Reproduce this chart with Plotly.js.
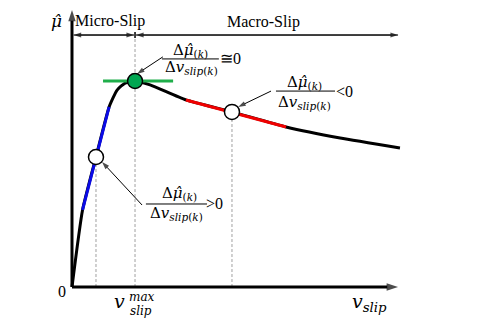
<!DOCTYPE html>
<html>
<head>
<meta charset="utf-8">
<script src="https://cdn.plot.ly/plotly-3.0.1.min.js"></script>
<style>
  body { margin: 0; background: #fff; }
  #chart { width: 479px; height: 327px; }
</style>
</head>
<body>
<div id="chart"></div>
<script>
// friction curve mu_hat vs slip velocity (arbitrary units, peak normalised to 1)
var slip = [0, 0.33, 0.75, 1.16, 1.41, 1.66, 1.97, 2.44, 3.56, 5.0, 6.69, 8.38, 10.25]
var mu   = [0, 0.374, 0.631, 0.874, 0.956, 0.99, 1.0, 0.981, 0.908, 0.85, 0.777, 0.723, 0.675]

// the three operating points k and their local slopes
var pointSlip = [0.75, 1.97, 5.0]
var pointMu   = [0.631, 1.0, 0.85]

var tangentRise = { slip: [0.33, 1.16], mu: [0.374, 0.874] }   // d mu / d v > 0
var tangentPeak = { slip: [0.97, 3.16], mu: [1.0, 1.0] }       // ~ 0
var tangentFall = { slip: [3.56, 6.69], mu: [0.908, 0.777] }   // < 0

var slipMax = 1.97       // peak position
var slipEnd = 10.19      // end of the x axis arrow
var muTop = 1.345        // end of the y axis arrow
var regionY = 1.223      // height of the micro / macro slip arrows

var mathFont = { family: 'DejaVu Serif', size: 15, color: '#000' }
var textFont = { family: 'Liberation Serif', size: 16, color: '#000' }

// line with arrow heads on every point but the first
function arrowTrace(xs, ys, width, head) {
    var sizes = xs.map(function (v, i) { return i == 0 ? 0 : head })
    return {
        x: xs, y: ys, mode: 'lines+markers',
        line: { color: '#000', width: width },
        marker: { symbol: 'arrow', angleref: 'previous', size: sizes, color: '#000', line: { width: 0 } },
        hoverinfo: 'skip'
    }
}

function drawPlot() {
    var curve = {
        x: slip, y: mu, mode: 'lines',
        line: { color: '#000', width: 3, shape: 'spline', smoothing: 0.5 },
        hoverinfo: 'skip'
    }
    var rise = {
        x: tangentRise.slip, y: tangentRise.mu, mode: 'lines',
        line: { color: '#0a0ae6', width: 3 }
    }
    var peak = {
        x: tangentPeak.slip, y: tangentPeak.mu, mode: 'lines',
        line: { color: '#1fae4a', width: 3 }
    }
    var fall = {
        x: tangentFall.slip, y: tangentFall.mu, mode: 'lines',
        line: { color: '#f00000', width: 3 }
    }
    var points = {
        x: pointSlip, y: pointMu, mode: 'markers',
        marker: {
            size: 15,
            color: ['#fff', '#00a651', '#fff'],
            line: { color: '#000', width: 1.5 }
        }
    }

    var arrows = [
        // axes
        arrowTrace([0, 0], [0, muTop], 3, 12),
        arrowTrace([0, slipEnd], [0, 0], 3, 12),
        // micro / macro slip ranges (both ends)
        arrowTrace([0.05, 1.94, 0.05], [regionY, regionY, regionY], 1, 8),
        arrowTrace([2.0, slipEnd, 2.0], [regionY, regionY, regionY], 1, 8),
        // pointers to the operating points
        arrowTrace([2.84, 2.03], [1.117, 1.034], 1, 8),
        arrowTrace([6.22, 5.19], [0.951, 0.874], 1, 8),
        arrowTrace([2.19, 0.94], [0.398, 0.607], 1, 8)
    ]

    // thin dashed guides down to the x axis
    var dash = { color: '#a0a0a0', width: 1, dash: '3px,2px' }
    var shapes = [
        { type: 'line', x0: pointSlip[0], x1: pointSlip[0], y0: 0, y1: pointMu[0], line: dash, layer: 'below' },
        { type: 'line', x0: slipMax, x1: slipMax, y0: 0, y1: 1.209, line: dash, layer: 'below' },
        { type: 'line', x0: pointSlip[2], x1: pointSlip[2], y0: 0, y1: pointMu[2], line: dash, layer: 'below' },
        // little divider between the two regions
        { type: 'line', x0: slipMax, x1: slipMax, y0: 1.209, y1: 1.238, line: { color: '#000', width: 1.5 } },
        // fraction bars
        { type: 'line', x0: 2.81, x1: 4.59, y0: 1.107, y1: 1.107, line: { color: '#000', width: 1 } },
        { type: 'line', x0: 6.375, x1: 8.22, y0: 0.951, y1: 0.951, line: { color: '#000', width: 1 } },
        { type: 'line', x0: 2.31, x1: 4.22, y0: 0.403, y1: 0.403, line: { color: '#000', width: 1 } }
    ]

    function label(x, y, text, font) {
        return { x: x, y: y, xref: 'x', yref: 'y', text: text, showarrow: false, font: font, borderpad: 0 }
    }

    var num = 'Δ<i>μ̂</i><sub>(<i>k</i>)</sub>'
    var den = 'Δ<i>v</i><sub><i>slip</i>(<i>k</i>)</sub>'
    var small = { family: 'DejaVu Serif', size: 12, color: '#000' }
    var big = { family: 'DejaVu Serif', size: 19, color: '#000' }

    var annotations = [
        label(-0.47, 1.29, '<i>μ̂</i>', { family: 'DejaVu Serif', size: 17, color: '#000' }),
        label(1.19, 1.291, 'Micro-Slip', textFont),
        label(5.97, 1.286, 'Macro-Slip', textFont),
        label(-0.31, -0.02, '0', textFont),

        label(1.5, -0.07, '<i>v</i>', big),
        label(2.2, -0.049, '<i>max</i>', small),
        label(2.16, -0.117, '<i>slip</i>', small),
        label(9.3, -0.075, '<i>v</i><sub><i>slip</i></sub>', big),

        label(3.69, 1.15, num, mathFont),
        label(3.72, 1.064, den, mathFont),
        label(4.94, 1.107, '≅0', textFont),

        label(7.28, 0.995, num, mathFont),
        label(7.28, 0.894, den, mathFont),
        label(8.53, 0.951, '&lt;0', textFont),

        label(3.375, 0.452, num, mathFont),
        label(3.28, 0.358, den, mathFont),
        label(4.44, 0.403, '&gt;0', textFont)
    ]

    var layout = {
        width: 479,
        height: 327,
        margin: { l: 0, r: 0, t: 0, b: 0 },
        paper_bgcolor: '#fff',
        plot_bgcolor: '#fff',
        showlegend: false,
        xaxis: { range: [-2.25, 12.72], visible: false, fixedrange: true },
        yaxis: { range: [-0.194, 1.393], visible: false, fixedrange: true },
        shapes: shapes,
        annotations: annotations
    }

    var data = [curve, rise, peak, fall].concat(arrows).concat([points])
    Plotly.newPlot('chart', data, layout, { displayModeBar: false, staticPlot: true })
}

drawPlot()
</script>
</body>
</html>
